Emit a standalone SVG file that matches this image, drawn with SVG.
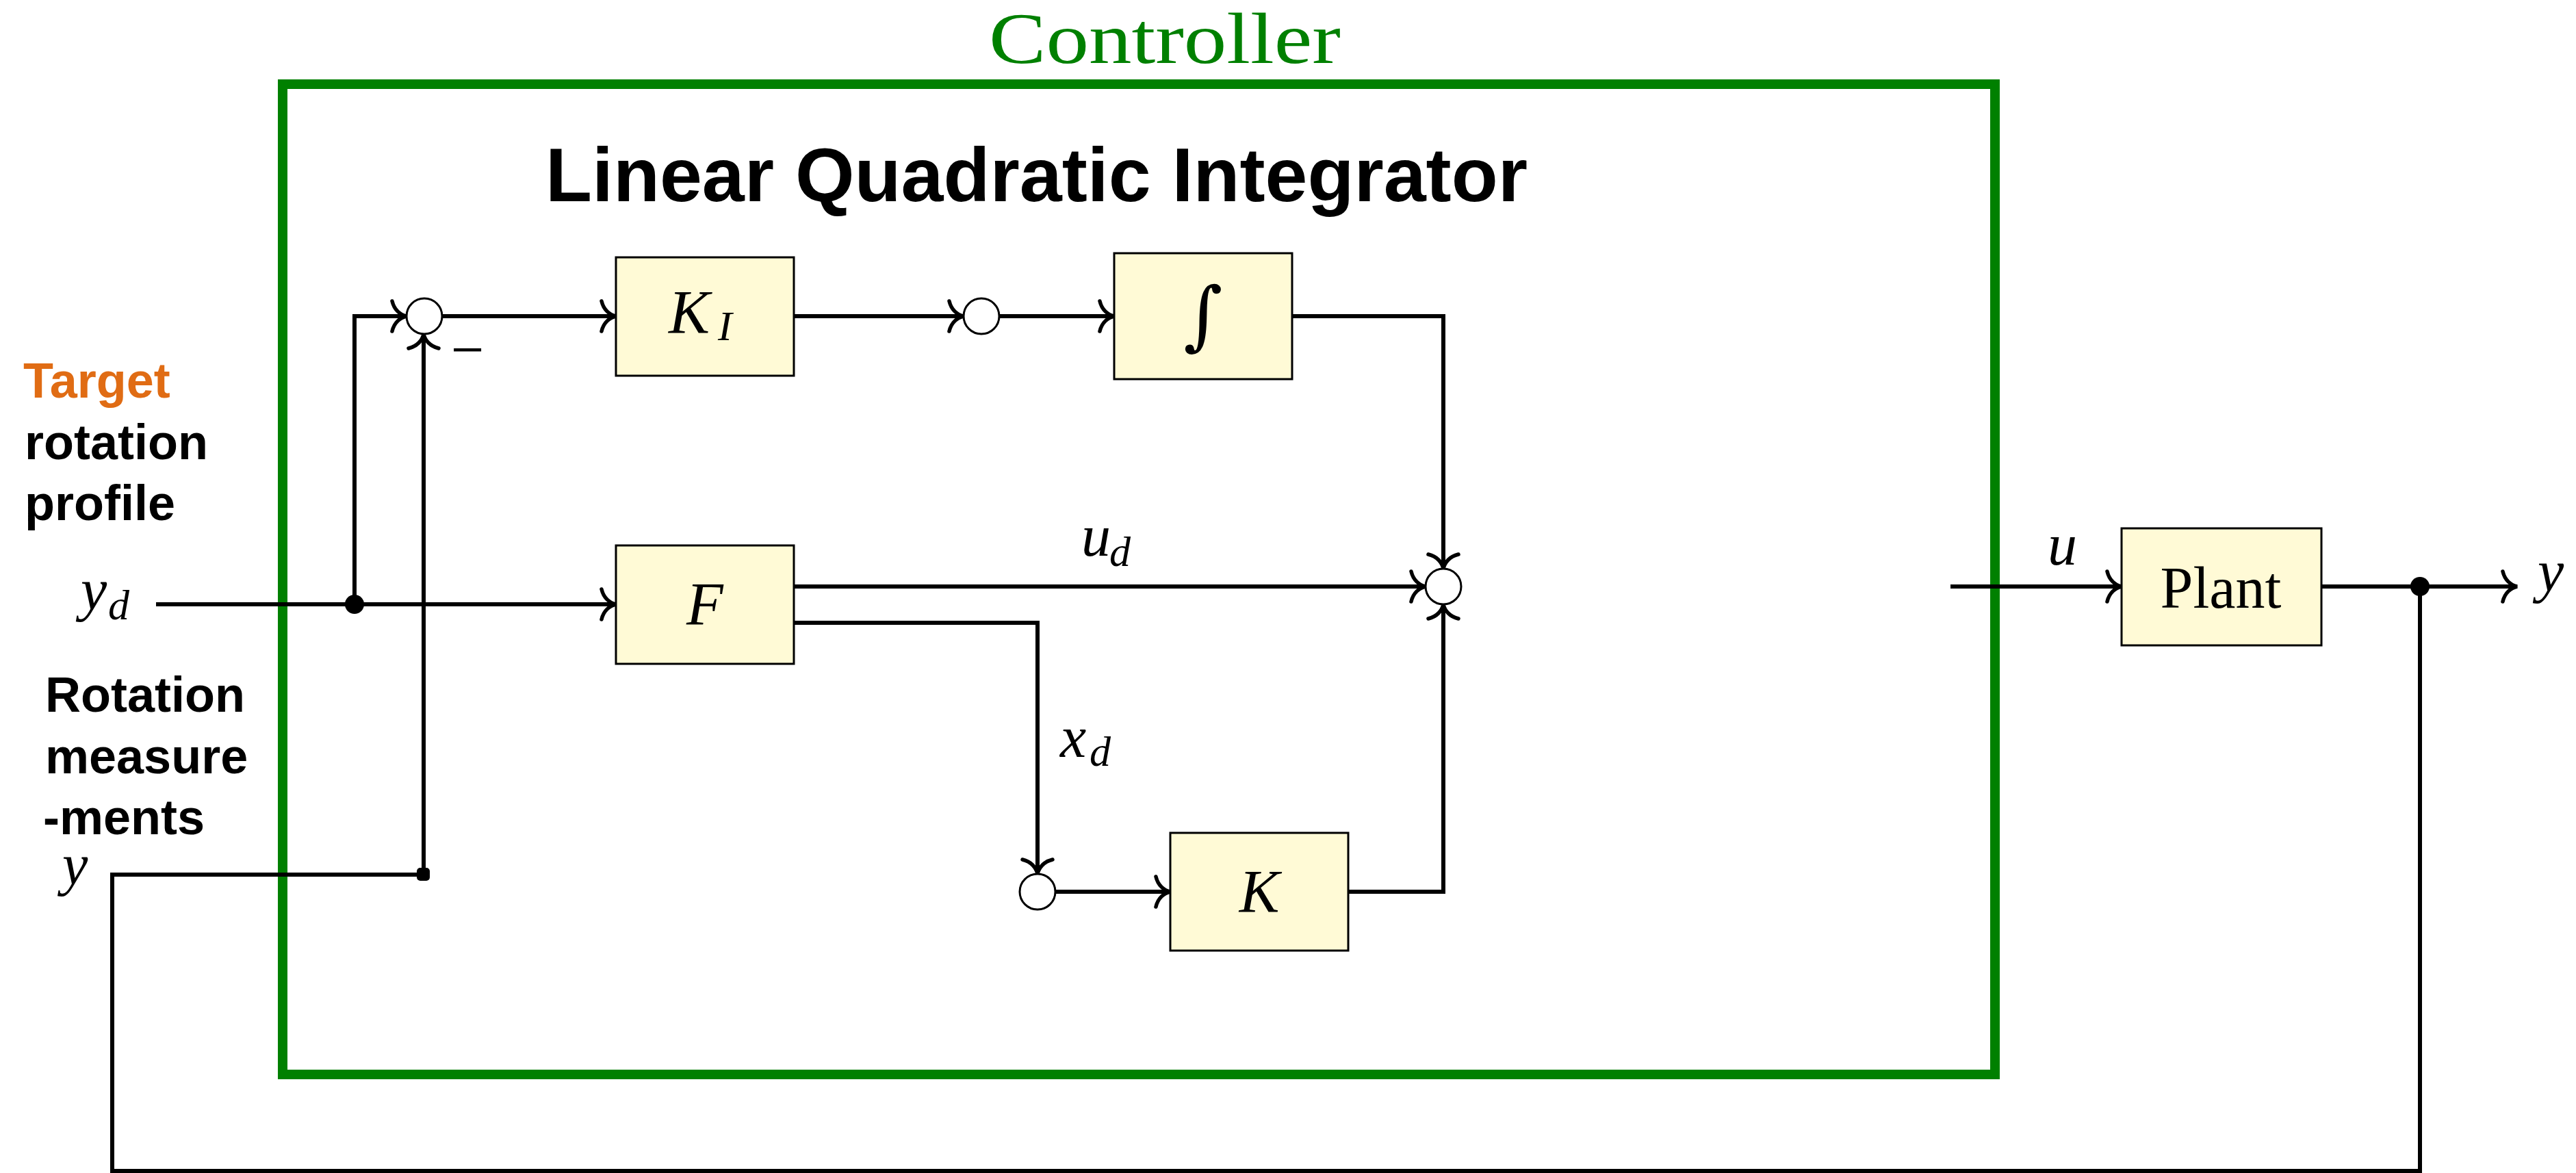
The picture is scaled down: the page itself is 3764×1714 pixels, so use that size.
<svg xmlns="http://www.w3.org/2000/svg" width="3764" height="1714" viewBox="0 0 3764 1714">
<style>
.wire{fill:none;stroke:#000;stroke-width:6;stroke-linejoin:miter}
.blk{fill:#FFFAD6;stroke:#000;stroke-width:3}
.sum{fill:#fff;stroke:#000;stroke-width:3}
.math{font-family:"Liberation Serif","DejaVu Serif",serif;font-style:italic;fill:#000}
.rm{font-family:"Liberation Serif","DejaVu Serif",serif;fill:#000}
.lbl{font-family:"Liberation Sans",Arial,sans-serif;font-weight:bold;font-size:72px;fill:#000}
</style>
<defs>
<marker id="arr" markerUnits="userSpaceOnUse" markerWidth="60" markerHeight="60" refX="0" refY="0" orient="auto" overflow="visible">
<path d="M -21,-22 C -18,-9 -9,-2 0,0 C -9,2 -18,9 -21,22" fill="none" stroke="#000" stroke-width="5.5" stroke-linecap="round"/>
</marker>
</defs>
<rect width="3764" height="1714" fill="#fff"/>

<g id="controller">
<rect x="413" y="123" width="2502" height="1447" fill="none" stroke="#008000" stroke-width="14"/>
<text x="1702" y="92" class="rm" font-size="106" style="fill:#008000" text-anchor="middle" textLength="514" lengthAdjust="spacingAndGlyphs">Controller</text>
<text x="797" y="294" font-family="'Liberation Sans',Arial,sans-serif" font-weight="bold" font-size="112" textLength="1435" lengthAdjust="spacingAndGlyphs">Linear Quadratic Integrator</text>
</g>

<g id="labels-left">
<text x="34" y="581" class="lbl" style="fill:#E06C14">Target</text>
<text x="36" y="671" class="lbl">rotation</text>
<text x="36" y="760" class="lbl">profile</text>
<text x="66" y="1040" class="lbl">Rotation</text>
<text x="66" y="1130" class="lbl">measure</text>
<text x="63" y="1219" class="lbl">-ments</text>
<text x="118" y="890" class="math" font-size="86">y</text>
<text x="158" y="905" class="math" font-size="62">d</text>
<text x="91" y="1292" class="math" font-size="84">y</text>
</g>

<g id="connectors">
<path class="wire" d="M 228 883 H 900" marker-end="url(#arr)"/>
<path class="wire" d="M 518 883 V 462 H 594" marker-end="url(#arr)"/>
<path class="wire" d="M 619 1278 V 488" marker-end="url(#arr)"/>
<path class="wire" d="M 646 462 H 900" marker-end="url(#arr)"/>
<path class="wire" d="M 1160 462 H 1408" marker-end="url(#arr)"/>
<path class="wire" d="M 1460 462 H 1628" marker-end="url(#arr)"/>
<path class="wire" d="M 1888 462 H 2109 V 831" marker-end="url(#arr)"/>
<path class="wire" d="M 1160 857 H 2083" marker-end="url(#arr)"/>
<path class="wire" d="M 1160 910 H 1516 V 1277" marker-end="url(#arr)"/>
<path class="wire" d="M 1542 1303 H 1710" marker-end="url(#arr)"/>
<path class="wire" d="M 1970 1303 H 2109 V 883" marker-end="url(#arr)"/>
<path class="wire" d="M 2850 857 H 3100" marker-end="url(#arr)"/>
<path class="wire" d="M 3392 857 H 3678" marker-end="url(#arr)"/>
<path class="wire" d="M 3536 857 V 1711 H 164 V 1278 H 619"/>
<circle cx="518" cy="883" r="14" fill="#000"/>
<circle cx="3536" cy="857" r="14" fill="#000"/>
<rect x="609" y="1268" width="19" height="19" rx="5" fill="#000"/>
<text x="659" y="540" class="rm" font-size="86">−</text>
<text x="1580" y="812" class="math" font-size="86">u</text>
<text x="1621" y="827" class="math" font-size="62">d</text>
<text x="1549" y="1106" class="math" font-size="86">x</text>
<text x="1592" y="1119" class="math" font-size="62">d</text>
<text x="2992" y="825" class="math" font-size="86">u</text>
<text x="3708" y="863" class="math" font-size="86">y</text>
</g>

<g id="sum1"><circle class="sum" cx="620" cy="462" r="26"/></g>
<g id="sum2"><circle class="sum" cx="1434" cy="462" r="26"/></g>
<g id="sum3"><circle class="sum" cx="2109" cy="857" r="26"/></g>
<g id="sum4"><circle class="sum" cx="1516" cy="1303" r="26"/></g>

<g id="KI">
<rect class="blk" x="900" y="376" width="260" height="173"/>
<text x="977" y="487" class="math" font-size="90">K</text>
<text x="1049" y="497" class="math" font-size="62">I</text>
</g>
<g id="integrator">
<rect class="blk" x="1628" y="370" width="260" height="184"/>
<text x="1758" y="498" font-size="110" text-anchor="middle" style="font-family:'DejaVu Serif',serif;font-style:italic">∫</text>
</g>
<g id="F">
<rect class="blk" x="900" y="797" width="260" height="173"/>
<text x="1030" y="912" class="math" font-size="88" text-anchor="middle">F</text>
</g>
<g id="K">
<rect class="blk" x="1710" y="1217" width="260" height="172"/>
<text x="1840" y="1332" class="math" font-size="88" text-anchor="middle">K</text>
</g>
<g id="plant">
<rect class="blk" x="3100" y="772" width="292" height="171"/>
<text x="3245" y="888" class="rm" font-size="86" text-anchor="middle">Plant</text>
</g>
</svg>
